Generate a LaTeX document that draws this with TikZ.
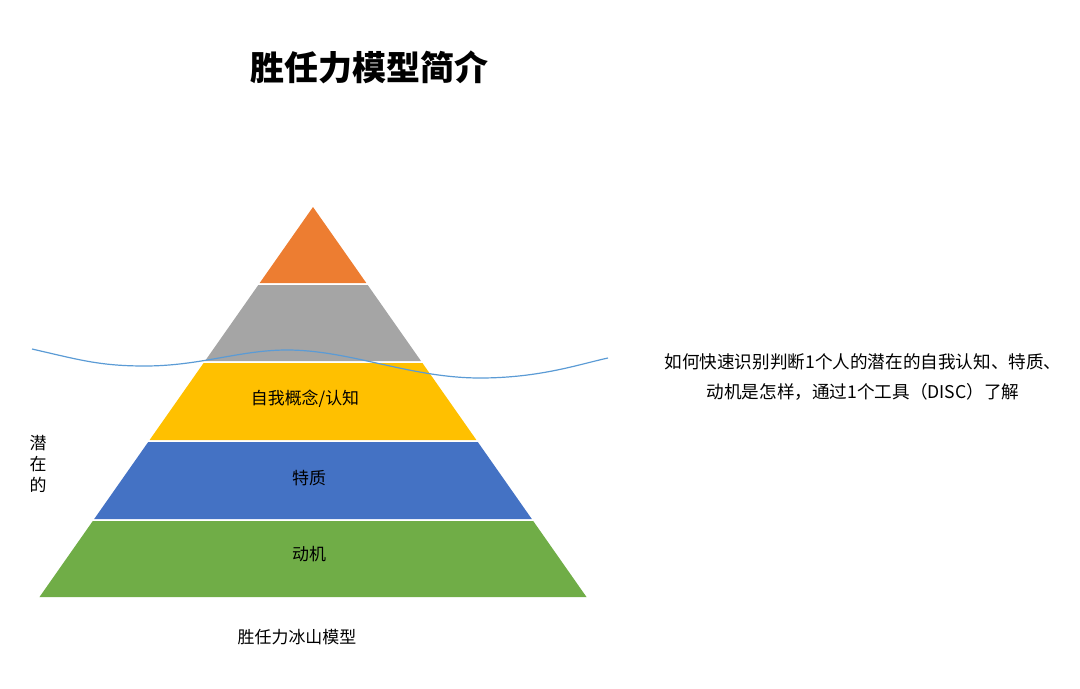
\documentclass[tikz,border=0pt]{standalone}
\usepackage{fontspec}
\setmainfont{Noto Sans CJK SC}
\definecolor{tipcol}{HTML}{ED7D31}
\definecolor{skillcol}{HTML}{A5A5A5}
\definecolor{selfcol}{HTML}{FFC000}
\definecolor{traitcol}{HTML}{4472C4}
\definecolor{motivecol}{HTML}{70AD47}
\definecolor{wavecol}{HTML}{5B9BD5}
\begin{document}
\begin{tikzpicture}[x=0.75pt, y=-0.75pt,
  every node/.style={inner sep=0pt, text=black},
  label/.style={font=\fontsize{12.7}{15}\selectfont},
  title/.style={font=\fontsize{25.5}{30}\selectfont\bfseries}]
  \useasboundingbox (0,0) rectangle (1080,688);
  % pyramid bands, apex at (313,207), base 40..587 at y=597
  \foreach \top/\bot/\col in {207/283/tipcol, 285/361/skillcol, 363/440/selfcol,
                              442/519/traitcol, 521/597/motivecol} {
    \fill[\col] ({313-0.7013*(\top-207)},\top) -- ({313+0.7013*(\top-207)},\top)
      -- ({313+0.7013*(\bot-207)},\bot) -- ({313-0.7013*(\bot-207)},\bot) -- cycle;
  }
  % water line
  \draw[wavecol, line width=0.9pt] (32,349) .. controls (80,360) and (100,366) .. (145,366)
    .. controls (200,366) and (240,350) .. (287,350)
    .. controls (350,350) and (410,378) .. (480,378)
    .. controls (540,378) and (580,364) .. (608,358);
  \node[title] (title) at (369,67) {胜任力模型简介};
  \node[label] (self) at (305,399) {自我概念/认知};
  \node[label] (trait) at (309,478) {特质};
  \node[label] (motive) at (309,554) {动机};
  \node[label] (caption) at (297,637) {胜任力冰山模型};
  \node[label, align=center, font=\fontsize{12.7}{16}\selectfont] (latent) at (38,464) {潜\\在\\的};
  \node[label, align=center, font=\fontsize{13.2}{23}\selectfont] (note) at (863,377)
    {如何快速识别判断1个人的潜在的自我认知、特质、\\动机是怎样，通过1个工具（DISC）了解};
\end{tikzpicture}
\end{document}
